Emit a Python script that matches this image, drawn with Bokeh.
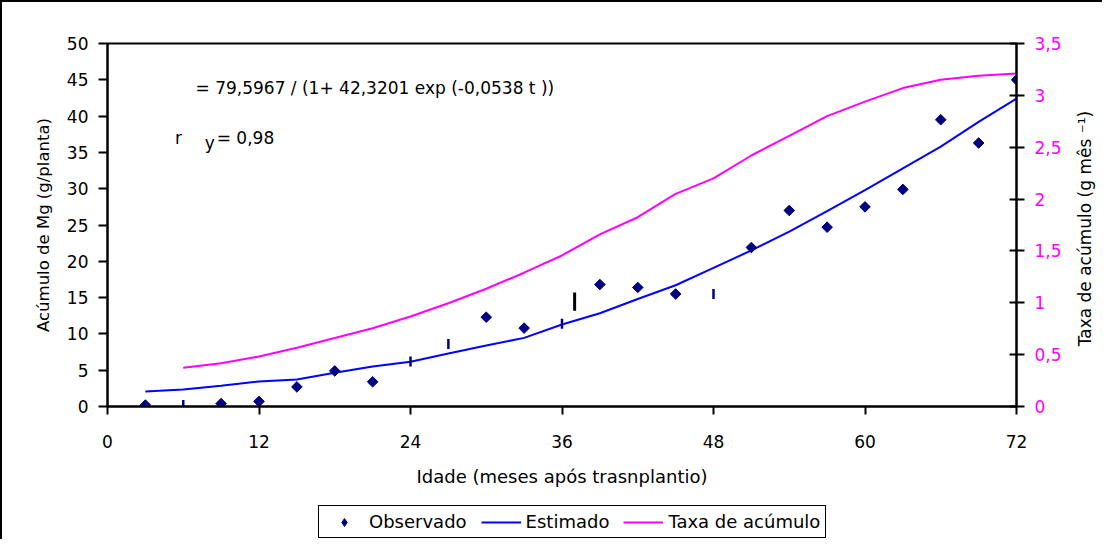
import math
from bokeh.plotting import figure
from bokeh.layouts import column, row
from bokeh.models import (Range1d, LinearAxis, FixedTicker, Legend, LegendItem,
                          Label, ColumnDataSource)
from bokeh.embed import file_html
from bokeh.resources import INLINE

FONT = "DejaVu Sans"

# ---------------- data ----------------
idade = [3, 6, 9, 12, 15, 18, 21, 24, 27, 30, 33, 36,
         39, 42, 45, 48, 51, 54, 57, 60, 63, 66, 69, 72]
observado = [0.2, 0.2, 0.4, 0.7, 2.7, 4.9, 3.4, 6.2, 8.6, 12.3, 10.8, 11.4,
             16.8, 16.4, 15.5, 15.5, 21.9, 27.0, 24.7, 27.5, 29.9, 39.5, 36.3, 45.0]
forma_obs = ["diamond", "dash", "diamond", "diamond", "diamond", "diamond",
             "diamond", "dash", "dash", "diamond", "diamond", "dash",
             "diamond", "diamond", "diamond", "dash", "diamond", "diamond",
             "diamond", "diamond", "diamond", "diamond", "diamond", "diamond"]
estimado = [2.05, 2.34, 2.85, 3.45, 3.72, 4.65, 5.5, 6.15, 7.3, 8.4, 9.45, 11.3,
            12.85, 14.8, 16.7, 19.1, 21.5, 24.1, 26.9, 29.8, 32.8, 35.8, 39.2, 42.4]
taxa_idade = [6, 9, 12, 15, 18, 21, 24, 27, 30, 33, 36, 39,
              42, 45, 48, 51, 54, 57, 60, 63, 66, 69, 72]
taxa = [0.373, 0.418, 0.482, 0.566, 0.66, 0.755, 0.868, 0.996, 1.135, 1.29, 1.456, 1.66,
        1.825, 2.05, 2.2, 2.42, 2.61, 2.80, 2.94, 3.07, 3.15, 3.19, 3.21]
# stray vertical mark in the original
marca_t = [37.0]
marca_ini = [13.2]
marca_fim = [15.7]

x_ticks = [0, 12, 24, 36, 48, 60, 72]
y_ticks = [0, 5, 10, 15, 20, 25, 30, 35, 40, 45, 50]
taxa_ticks = [0, 0.5, 1, 1.5, 2, 2.5, 3, 3.5]
taxa_tick_labels = ["0", "0,5", "1", "1,5", "2", "2,5", "3", "3,5"]

serie_nomes = ["Observado", "Estimado", "Taxa de acúmulo"]
titulo_dir = "Taxa de acúmulo (g mês ⁻¹)"
equacao = "= 79,5967 / (1+ 42,3201 exp (-0,0538 t ))"
# -------------------------------------------------------------

BT, BB = 41, 99  # space above / below the plotting frame

p = figure(width=1062, height=503, x_range=Range1d(0, 72), y_range=Range1d(0, 50),
           output_backend="svg", toolbar_location=None,
           min_border_left=105, min_border_right=48, min_border_top=BT,
           min_border_bottom=BB)
p.background_fill_color = "white"
p.border_fill_color = "white"
p.outline_line_color = "black"
p.outline_line_width = 2
p.xgrid.visible = False
p.ygrid.visible = False

p.extra_y_ranges = {"taxa": Range1d(0, 3.5)}
right_axis = LinearAxis(y_range_name="taxa")
p.add_layout(right_axis, "right")


def style_axis(ax, tick_in, tick_out, label_color="black"):
    ax.axis_line_color = "black"
    ax.axis_line_width = 2
    ax.major_tick_line_color = "black"
    ax.major_tick_line_width = 2
    ax.major_tick_in = tick_in
    ax.major_tick_out = tick_out
    ax.minor_tick_line_color = None
    ax.major_label_text_font = FONT
    ax.major_label_text_font_size = "17px"
    ax.major_label_text_color = label_color
    ax.axis_label_text_font = FONT
    ax.axis_label_text_font_style = "normal"
    ax.axis_label_text_color = "black"


xa = p.xaxis[0]
style_axis(xa, 0, 8)
xa.ticker = FixedTicker(ticks=x_ticks)
xa.axis_label = "Idade (meses após trasnplantio)"
xa.axis_label_text_font_size = "18px"
xa.major_label_standoff = 20
xa.axis_label_standoff = 15

ya = p.yaxis[0]
style_axis(ya, 0, 9)
ya.ticker = FixedTicker(ticks=y_ticks)
ya.axis_label = "Acúmulo de Mg (g/planta)"
ya.axis_label_text_font_size = "16.5px"
ya.major_label_standoff = 10
ya.axis_label_standoff = 11

style_axis(right_axis, 7, 8, label_color="#FF00FF")
right_axis.ticker = FixedTicker(ticks=taxa_ticks)
right_axis.major_label_overrides = {t: s for t, s in zip(taxa_ticks, taxa_tick_labels)}
right_axis.major_label_standoff = 10

# lines
p.line(idade, estimado, line_color="#0000FF", line_width=2)
p.line(taxa_idade, taxa, line_color="#FF00FF", line_width=2, y_range_name="taxa")

# observed points
src_d = ColumnDataSource(dict(
    x=[t for t, f in zip(idade, forma_obs) if f == "diamond"],
    y=[v for v, f in zip(observado, forma_obs) if f == "diamond"]))
src_b = ColumnDataSource(dict(
    x=[t for t, f in zip(idade, forma_obs) if f == "dash"],
    y=[v for v, f in zip(observado, forma_obs) if f == "dash"]))
p.scatter("x", "y", source=src_d, marker="square", angle=math.pi / 4, size=7.5,
          fill_color="#000080", line_color="#000080")
p.scatter("x", "y", source=src_b, marker="dash", size=10, angle=math.pi / 2,
          line_color="#000080", line_width=2.5)

p.segment(x0=marca_t, y0=marca_ini, x1=marca_t, y1=marca_fim,
          line_color="black", line_width=3)

# equation texts
for tx, ty, txt in [(6.97, 43.9, equacao), (5.35, 36.95, "r"),
                    (7.7, 36.35, "y"), (8.65, 36.95, "= 0,98")]:
    p.add_layout(Label(x=tx, y=ty, text=txt, text_font=FONT, text_color="black",
                       text_font_size="17px", text_baseline="alphabetic"))

# ---- narrow strip on the right holding the right axis title (reads upwards) ----
r = figure(width=38, height=503, x_range=Range1d(0, 1), y_range=Range1d(0, 1),
           output_backend="svg", toolbar_location=None,
           x_axis_type=None, y_axis_type=None,
           min_border_left=0, min_border_right=0, min_border_top=BT,
           min_border_bottom=BB)
r.outline_line_color = None
r.background_fill_color = "white"
r.border_fill_color = "white"
r.xgrid.visible = False
r.ygrid.visible = False
r.add_layout(Label(x=0.55, y=0.49, text=titulo_dir, angle=math.pi / 2,
                   text_align="center", text_baseline="middle", text_font=FONT,
                   text_font_size="17px", text_color="black"))

# ---- legend strip underneath the chart (its series lie outside its view) ----
q = figure(width=1100, height=34, x_range=Range1d(1000, 1001), y_range=Range1d(1000, 1001),
           output_backend="svg", toolbar_location=None,
           x_axis_type=None, y_axis_type=None,
           min_border_left=105, min_border_right=86, min_border_top=0, min_border_bottom=0)
q.outline_line_color = None
q.background_fill_color = "white"
q.border_fill_color = "white"
q.xgrid.visible = False
q.ygrid.visible = False
k_obs = q.scatter(idade, observado, marker="diamond", size=8,
                  fill_color="#000080", line_color="#000080")
k_est = q.line(idade, estimado, line_color="#0000FF", line_width=2)
k_taxa = q.line(taxa_idade, taxa, line_color="#FF00FF", line_width=2)

legend = Legend(items=[LegendItem(label=serie_nomes[0], renderers=[k_obs]),
                       LegendItem(label=serie_nomes[1], renderers=[k_est]),
                       LegendItem(label=serie_nomes[2], renderers=[k_taxa])],
                orientation="horizontal", location=(211, 1))
legend.border_line_color = "black"
legend.border_line_width = 1.5
legend.border_line_alpha = 1
legend.background_fill_color = "white"
legend.background_fill_alpha = 1
legend.label_text_font = FONT
legend.label_text_font_size = "18px"
legend.label_text_color = "black"
legend.glyph_width = 40
legend.glyph_height = 20
legend.label_standoff = 5
legend.spacing = 14
legend.padding = 5
legend.margin = 0
q.add_layout(legend)

page = column(row(p, r, spacing=0), q, spacing=0)
page.styles = {"border-left": "2px solid black", "border-top": "2px solid black"}

open("out.html", "w").write(file_html(page, INLINE))
